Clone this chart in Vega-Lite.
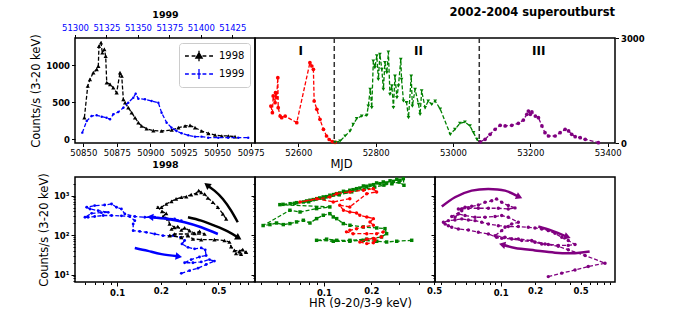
{
"$schema":"https://vega.github.io/schema/vega-lite/v6.json",
"padding":{"left":30,"top":5,"right":5,"bottom":5},
"background":"white",
"datasets":{
"lc98":[{"mjd":50850.8,"rate":292,"year":"1998"},{"mjd":50853.3,"rate":720,"year":"1998"},{"mjd":50855.0,"rate":810,"year":"1998"},{"mjd":50857.5,"rate":900,"year":"1998"},{"mjd":50860.0,"rate":946,"year":"1998"},{"mjd":50861.2,"rate":990,"year":"1998"},{"mjd":50861.7,"rate":1260,"year":"1998"},{"mjd":50863.2,"rate":1305,"year":"1998"},{"mjd":50864.2,"rate":1170,"year":"1998"},{"mjd":50865.7,"rate":1216,"year":"1998"},{"mjd":50866.7,"rate":1125,"year":"1998"},{"mjd":50867.5,"rate":765,"year":"1998"},{"mjd":50870.0,"rate":743,"year":"1998"},{"mjd":50872.4,"rate":697,"year":"1998"},{"mjd":50874.9,"rate":630,"year":"1998"},{"mjd":50877.4,"rate":900,"year":"1998"},{"mjd":50878.7,"rate":855,"year":"1998"},{"mjd":50879.9,"rate":540,"year":"1998"},{"mjd":50881.2,"rate":495,"year":"1998"},{"mjd":50883.6,"rate":427,"year":"1998"},{"mjd":50886.1,"rate":360,"year":"1998"},{"mjd":50888.6,"rate":292,"year":"1998"},{"mjd":50891.1,"rate":225,"year":"1998"},{"mjd":50893.6,"rate":180,"year":"1998"},{"mjd":50897.3,"rate":143,"year":"1998"},{"mjd":50902.3,"rate":117,"year":"1998"},{"mjd":50908.5,"rate":112,"year":"1998"},{"mjd":50916.0,"rate":126,"year":"1998"},{"mjd":50921.0,"rate":157,"year":"1998"},{"mjd":50926.0,"rate":180,"year":"1998"},{"mjd":50929.7,"rate":189,"year":"1998"},{"mjd":50933.4,"rate":157,"year":"1998"},{"mjd":50938.4,"rate":112,"year":"1998"},{"mjd":50943.4,"rate":81,"year":"1998"},{"mjd":50948.4,"rate":58,"year":"1998"},{"mjd":50953.4,"rate":45,"year":"1998"},{"mjd":50958.3,"rate":45,"year":"1998"},{"mjd":50963.3,"rate":36,"year":"1998"}],
"lc99":[{"mjd":51305.8,"rate":90,"year":"1999"},{"mjd":51309.3,"rate":247,"year":"1999"},{"mjd":51313.2,"rate":315,"year":"1999"},{"mjd":51317.2,"rate":324,"year":"1999"},{"mjd":51321.2,"rate":306,"year":"1999"},{"mjd":51325.1,"rate":292,"year":"1999"},{"mjd":51327.8,"rate":270,"year":"1999"},{"mjd":51330.4,"rate":338,"year":"1999"},{"mjd":51334.4,"rate":369,"year":"1999"},{"mjd":51338.4,"rate":427,"year":"1999"},{"mjd":51342.3,"rate":495,"year":"1999"},{"mjd":51346.3,"rate":562,"year":"1999"},{"mjd":51348.2,"rate":616,"year":"1999"},{"mjd":51350.3,"rate":549,"year":"1999"},{"mjd":51355.6,"rate":540,"year":"1999"},{"mjd":51360.9,"rate":517,"year":"1999"},{"mjd":51366.2,"rate":495,"year":"1999"},{"mjd":51368.8,"rate":360,"year":"1999"},{"mjd":51372.8,"rate":225,"year":"1999"},{"mjd":51376.7,"rate":157,"year":"1999"},{"mjd":51380.7,"rate":112,"year":"1999"},{"mjd":51384.7,"rate":81,"year":"1999"},{"mjd":51390.0,"rate":54,"year":"1999"},{"mjd":51395.3,"rate":36,"year":"1999"},{"mjd":51400.5,"rate":36,"year":"1999"},{"mjd":51405.8,"rate":22,"year":"1999"},{"mjd":51413.8,"rate":22,"year":"1999"},{"mjd":51421.7,"rate":22,"year":"1999"},{"mjd":51429.7,"rate":22,"year":"1999"},{"mjd":51437.6,"rate":22,"year":"1999"}],
"lc0204":[{"seg":"I","mjd":52529,"rate":1057},{"seg":"I","mjd":52533,"rate":867},{"seg":"I","mjd":52535,"rate":1343},{"seg":"I","mjd":52540,"rate":1152},{"seg":"I","mjd":52541,"rate":1438},{"seg":"I","mjd":52544,"rate":1295},{"seg":"I","mjd":52547,"rate":1867},{"seg":"I","mjd":52548,"rate":1010},{"seg":"I","mjd":52553,"rate":771},{"seg":"I","mjd":52557,"rate":724},{"seg":"I","mjd":52566,"rate":771},{"seg":"I","mjd":52596,"rate":581},{"seg":"I","mjd":52630,"rate":2295},{"seg":"I","mjd":52635,"rate":2200},{"seg":"I","mjd":52639,"rate":2105},{"seg":"I","mjd":52641,"rate":1200},{"seg":"I","mjd":52648,"rate":962},{"seg":"I","mjd":52656,"rate":676},{"seg":"I","mjd":52665,"rate":390},{"seg":"I","mjd":52673,"rate":200},{"seg":"I","mjd":52680,"rate":100},{"seg":"I","mjd":52688,"rate":40},{"seg":"I","mjd":52695,"rate":20},
{"seg":"II","mjd":52695,"rate":20},{"seg":"II","mjd":52708,"rate":57},{"seg":"II","mjd":52721,"rate":200},{"seg":"II","mjd":52734,"rate":343},{"seg":"II","mjd":52742,"rate":533},{"seg":"II","mjd":52751,"rate":695},{"seg":"II","mjd":52764,"rate":771},{"seg":"II","mjd":52777,"rate":790},{"seg":"II","mjd":52781,"rate":1057},{"seg":"II","mjd":52786,"rate":1533},{"seg":"II","mjd":52790,"rate":1010},{"seg":"II","mjd":52794,"rate":2343},{"seg":"II","mjd":52798,"rate":2152},{"seg":"II","mjd":52803,"rate":2486},{"seg":"II","mjd":52807,"rate":1819},{"seg":"II","mjd":52811,"rate":2533},{"seg":"II","mjd":52816,"rate":2105},{"seg":"II","mjd":52820,"rate":1533},{"seg":"II","mjd":52824,"rate":2295},{"seg":"II","mjd":52829,"rate":2010},{"seg":"II","mjd":52833,"rate":2600},{"seg":"II","mjd":52837,"rate":1390},{"seg":"II","mjd":52842,"rate":1629},{"seg":"II","mjd":52846,"rate":1010},{"seg":"II","mjd":52850,"rate":1914},{"seg":"II","mjd":52855,"rate":1295},{"seg":"II","mjd":52859,"rate":1629},{"seg":"II","mjd":52865,"rate":2390},{"seg":"II","mjd":52867,"rate":1819},{"seg":"II","mjd":52872,"rate":1200},{"seg":"II","mjd":52880,"rate":1152},{"seg":"II","mjd":52885,"rate":724},{"seg":"II","mjd":52892,"rate":1914},{"seg":"II","mjd":52895,"rate":1057},{"seg":"II","mjd":52902,"rate":1533},{"seg":"II","mjd":52911,"rate":1105},{"seg":"II","mjd":52915,"rate":819},{"seg":"II","mjd":52919,"rate":1486},{"seg":"II","mjd":52928,"rate":1010},{"seg":"II","mjd":52936,"rate":1200},{"seg":"II","mjd":52945,"rate":1105},{"seg":"II","mjd":52954,"rate":1200},{"seg":"II","mjd":52967,"rate":971},{"seg":"II","mjd":52993,"rate":248},{"seg":"II","mjd":53005,"rate":390},{"seg":"II","mjd":53018,"rate":562},{"seg":"II","mjd":53031,"rate":600},{"seg":"II","mjd":53044,"rate":486},{"seg":"II","mjd":53053,"rate":295},{"seg":"II","mjd":53062,"rate":105},{"seg":"II","mjd":53068,"rate":29},
{"seg":"III","mjd":53070,"rate":29},{"seg":"III","mjd":53083,"rate":105},{"seg":"III","mjd":53096,"rate":248},{"seg":"III","mjd":53109,"rate":390},{"seg":"III","mjd":53122,"rate":505},{"seg":"III","mjd":53135,"rate":486},{"seg":"III","mjd":53152,"rate":505},{"seg":"III","mjd":53169,"rate":562},{"seg":"III","mjd":53182,"rate":657},{"seg":"III","mjd":53191,"rate":819},{"seg":"III","mjd":53195,"rate":914},{"seg":"III","mjd":53200,"rate":819},{"seg":"III","mjd":53204,"rate":886},{"seg":"III","mjd":53213,"rate":771},{"seg":"III","mjd":53221,"rate":724},{"seg":"III","mjd":53230,"rate":486},{"seg":"III","mjd":53238,"rate":295},{"seg":"III","mjd":53247,"rate":200},{"seg":"III","mjd":53264,"rate":200},{"seg":"III","mjd":53277,"rate":295},{"seg":"III","mjd":53290,"rate":390},{"seg":"III","mjd":53299,"rate":343},{"seg":"III","mjd":53307,"rate":248},{"seg":"III","mjd":53316,"rate":181},{"seg":"III","mjd":53329,"rate":152},{"seg":"III","mjd":53342,"rate":105},{"seg":"III","mjd":53376,"rate":10}],
"hr98":[{"i":0,"hr":0.565,"rate":258},{"i":1,"hr":0.536,"rate":344},{"i":2,"hr":0.495,"rate":508},{"i":3,"hr":0.457,"rate":680},{"i":4,"hr":0.422,"rate":876},{"i":5,"hr":0.401,"rate":1104},{"i":6,"hr":0.38,"rate":1216},{"i":7,"hr":0.365,"rate":1339},{"i":8,"hr":0.351,"rate":1147},{"i":9,"hr":0.324,"rate":1060},{"i":10,"hr":0.30,"rate":945},{"i":11,"hr":0.277,"rate":911},{"i":12,"hr":0.255,"rate":825},{"i":13,"hr":0.237,"rate":720},{"i":14,"hr":0.218,"rate":616},{"i":15,"hr":0.202,"rate":508},{"i":16,"hr":0.191,"rate":508},{"i":17,"hr":0.204,"rate":400},{"i":18,"hr":0.218,"rate":357},{"i":19,"hr":0.207,"rate":295},{"i":20,"hr":0.224,"rate":258},{"i":21,"hr":0.23,"rate":192},{"i":22,"hr":0.249,"rate":158},{"i":23,"hr":0.237,"rate":143},{"i":24,"hr":0.262,"rate":165},{"i":25,"hr":0.277,"rate":135},{"i":26,"hr":0.292,"rate":152},{"i":27,"hr":0.316,"rate":130},{"i":28,"hr":0.342,"rate":111},{"i":29,"hr":0.37,"rate":124},{"i":30,"hr":0.401,"rate":107},{"i":31,"hr":0.249,"rate":107},{"i":32,"hr":0.23,"rate":97},{"i":33,"hr":0.277,"rate":88},{"i":34,"hr":0.308,"rate":97},{"i":35,"hr":0.333,"rate":80},{"i":36,"hr":0.38,"rate":77},{"i":37,"hr":0.469,"rate":77},{"i":38,"hr":0.55,"rate":73},{"i":39,"hr":0.595,"rate":67},{"i":40,"hr":0.611,"rate":51},{"i":41,"hr":0.644,"rate":41},{"i":42,"hr":0.697,"rate":39.5},{"i":43,"hr":0.735,"rate":43},{"i":44,"hr":0.776,"rate":37},{"i":45,"hr":0.716,"rate":33},{"i":46,"hr":0.661,"rate":34.5}],
"hr99":[{"i":0,"hr":0.277,"rate":10.8},{"i":1,"hr":0.316,"rate":12.6},{"i":2,"hr":0.361,"rate":14.6},{"i":3,"hr":0.411,"rate":18},{"i":4,"hr":0.469,"rate":22},{"i":5,"hr":0.433,"rate":24},{"i":6,"hr":0.38,"rate":21},{"i":7,"hr":0.333,"rate":20},{"i":8,"hr":0.292,"rate":20},{"i":9,"hr":0.324,"rate":24},{"i":10,"hr":0.37,"rate":28},{"i":11,"hr":0.411,"rate":30.5},{"i":12,"hr":0.405,"rate":42.5},{"i":13,"hr":0.38,"rate":47.5},{"i":14,"hr":0.342,"rate":45},{"i":15,"hr":0.308,"rate":49},{"i":16,"hr":0.28,"rate":60},{"i":17,"hr":0.292,"rate":73},{"i":18,"hr":0.274,"rate":88},{"i":19,"hr":0.243,"rate":97},{"i":20,"hr":0.207,"rate":97},{"i":21,"hr":0.1816,"rate":107},{"i":22,"hr":0.159,"rate":118},{"i":23,"hr":0.143,"rate":124},{"i":24,"hr":0.129,"rate":130},{"i":25,"hr":0.129,"rate":192},{"i":26,"hr":0.1324,"rate":233},{"i":27,"hr":0.122,"rate":296},{"i":28,"hr":0.107,"rate":308},{"i":29,"hr":0.0915,"rate":314},{"i":30,"hr":0.080,"rate":314},{"i":31,"hr":0.070,"rate":296},{"i":32,"hr":0.063,"rate":284},{"i":33,"hr":0.060,"rate":284},{"i":34,"hr":0.0667,"rate":357},{"i":35,"hr":0.078,"rate":371},{"i":36,"hr":0.0868,"rate":379},{"i":37,"hr":0.074,"rate":417},{"i":38,"hr":0.065,"rate":460},{"i":39,"hr":0.0617,"rate":508},{"i":40,"hr":0.070,"rate":560},{"i":41,"hr":0.082,"rate":580},{"i":42,"hr":0.0915,"rate":616},{"i":43,"hr":0.099,"rate":508},{"i":44,"hr":0.107,"rate":460},{"i":45,"hr":0.113,"rate":344},{"i":46,"hr":0.1324,"rate":296},{"i":47,"hr":0.155,"rate":284},{"i":48,"hr":0.1816,"rate":284},{"i":49,"hr":0.213,"rate":272},{"i":50,"hr":0.249,"rate":258},{"i":51,"hr":0.277,"rate":233}],
"hrI":[{"i":0,"hr":0.146,"rate":840},{"i":1,"hr":0.1146,"rate":693},{"i":2,"hr":0.09,"rate":840},{"i":3,"hr":0.0705,"rate":693},{"i":4,"hr":0.109,"rate":927},{"i":5,"hr":0.1205,"rate":1124},{"i":6,"hr":0.146,"rate":1241},{"i":7,"hr":0.178,"rate":1371},{"i":8,"hr":0.206,"rate":1504},{"i":9,"hr":0.216,"rate":1241},{"i":10,"hr":0.187,"rate":1124},{"i":11,"hr":0.146,"rate":518},{"i":12,"hr":0.126,"rate":571},{"i":13,"hr":0.133,"rate":427},{"i":14,"hr":0.146,"rate":386},{"i":15,"hr":0.161,"rate":365},{"i":16,"hr":0.169,"rate":319},{"i":17,"hr":0.187,"rate":289},{"i":18,"hr":0.206,"rate":262},{"i":19,"hr":0.196,"rate":216},{"i":20,"hr":0.206,"rate":178},{"i":21,"hr":0.178,"rate":161},{"i":22,"hr":0.161,"rate":146},{"i":23,"hr":0.146,"rate":133},{"i":24,"hr":0.139,"rate":121},{"i":25,"hr":0.153,"rate":109},{"i":26,"hr":0.187,"rate":109},{"i":27,"hr":0.216,"rate":109},{"i":28,"hr":0.238,"rate":121},{"i":29,"hr":0.232,"rate":90},{"i":30,"hr":0.206,"rate":82},{"i":31,"hr":0.187,"rate":79},{"i":32,"hr":0.169,"rate":67},{"i":33,"hr":0.187,"rate":61},{"i":34,"hr":0.206,"rate":64},{"i":35,"hr":0.211,"rate":74}],
"hrII":[{"i":0,"hr":0.3606,"rate":74},{"i":1,"hr":0.2897,"rate":70},{"i":2,"hr":0.25,"rate":67},{"i":3,"hr":0.2163,"rate":70},{"i":4,"hr":0.1777,"rate":74},{"i":5,"hr":0.146,"rate":70},{"i":6,"hr":0.1146,"rate":70},{"i":7,"hr":0.0898,"rate":74},{"i":8,"hr":0.104,"rate":79},{"i":9,"hr":0.1205,"rate":74},{"i":10,"hr":0.1462,"rate":74},{"i":11,"hr":0.1866,"rate":79},{"i":12,"hr":0.232,"rate":90},{"i":13,"hr":0.25,"rate":109},{"i":14,"hr":0.244,"rate":146},{"i":15,"hr":0.2163,"rate":152},{"i":16,"hr":0.1777,"rate":161},{"i":17,"hr":0.1462,"rate":178},{"i":18,"hr":0.1327,"rate":196},{"i":19,"hr":0.1205,"rate":262},{"i":20,"hr":0.1146,"rate":289},{"i":21,"hr":0.109,"rate":350},{"i":22,"hr":0.099,"rate":319},{"i":23,"hr":0.0898,"rate":262},{"i":24,"hr":0.0815,"rate":203},{"i":25,"hr":0.074,"rate":238},{"i":26,"hr":0.067,"rate":216},{"i":27,"hr":0.0608,"rate":196},{"i":28,"hr":0.0552,"rate":185},{"i":29,"hr":0.05,"rate":203},{"i":30,"hr":0.0454,"rate":185},{"i":31,"hr":0.0411,"rate":175},{"i":32,"hr":0.0608,"rate":427},{"i":33,"hr":0.0705,"rate":386},{"i":34,"hr":0.0898,"rate":469},{"i":35,"hr":0.109,"rate":518},{"i":36,"hr":0.0525,"rate":592},{"i":37,"hr":0.055,"rate":603},{"i":38,"hr":0.061,"rate":627},{"i":39,"hr":0.067,"rate":665},{"i":40,"hr":0.074,"rate":693},{"i":41,"hr":0.0776,"rate":735},{"i":42,"hr":0.0815,"rate":766},{"i":43,"hr":0.0855,"rate":795},{"i":44,"hr":0.09,"rate":840},{"i":45,"hr":0.094,"rate":875},{"i":46,"hr":0.099,"rate":927},{"i":47,"hr":0.104,"rate":945},{"i":48,"hr":0.109,"rate":1024},{"i":49,"hr":0.115,"rate":1065},{"i":50,"hr":0.12,"rate":1124},{"i":51,"hr":0.126,"rate":1170},{"i":52,"hr":0.133,"rate":1290},{"i":53,"hr":0.139,"rate":1241},{"i":54,"hr":0.146,"rate":1371},{"i":55,"hr":0.153,"rate":1420},{"i":56,"hr":0.161,"rate":1504},{"i":57,"hr":0.169,"rate":1560},{"i":58,"hr":0.178,"rate":1760},{"i":59,"hr":0.187,"rate":1730},{"i":60,"hr":0.196,"rate":1834},{"i":61,"hr":0.206,"rate":1900},{"i":62,"hr":0.216,"rate":2100},{"i":63,"hr":0.227,"rate":2015},{"i":64,"hr":0.238,"rate":2225},{"i":65,"hr":0.25,"rate":2100},{"i":66,"hr":0.263,"rate":2380},{"i":67,"hr":0.276,"rate":2300},{"i":68,"hr":0.29,"rate":2600},{"i":69,"hr":0.304,"rate":2455},{"i":70,"hr":0.319,"rate":2692},{"i":71,"hr":0.322,"rate":1834},{"i":72,"hr":0.30,"rate":2200},{"i":73,"hr":0.27,"rate":2000},{"i":74,"hr":0.24,"rate":1850},{"i":75,"hr":0.21,"rate":1650},{"i":76,"hr":0.18,"rate":1450},{"i":77,"hr":0.15,"rate":1250},{"i":78,"hr":0.125,"rate":1050},{"i":79,"hr":0.10,"rate":850},{"i":80,"hr":0.08,"rate":700},{"i":81,"hr":0.065,"rate":640}],
"hrIII":[{"i":0,"hr":0.2608,"rate":8.9},{"i":1,"hr":0.342,"rate":10.9},{"i":2,"hr":0.4467,"rate":13.1},{"i":3,"hr":0.5834,"rate":16},{"i":4,"hr":0.818,"rate":19.5},{"i":5,"hr":0.547,"rate":30.5},{"i":6,"hr":0.39,"rate":42.5},{"i":7,"hr":0.319,"rate":52},{"i":8,"hr":0.2608,"rate":58},{"i":9,"hr":0.2284,"rate":60},{"i":10,"hr":0.1995,"rate":66},{"i":11,"hr":0.1527,"rate":73},{"i":12,"hr":0.1248,"rate":80},{"i":13,"hr":0.102,"rate":83},{"i":14,"hr":0.092,"rate":88},{"i":15,"hr":0.078,"rate":107},{"i":16,"hr":0.0637,"rate":118},{"i":17,"hr":0.0521,"rate":135},{"i":18,"hr":0.0426,"rate":143},{"i":19,"hr":0.0373,"rate":158},{"i":20,"hr":0.0348,"rate":174},{"i":21,"hr":0.0326,"rate":192},{"i":22,"hr":0.0315,"rate":212},{"i":23,"hr":0.0348,"rate":233},{"i":24,"hr":0.0398,"rate":242},{"i":25,"hr":0.0456,"rate":258},{"i":26,"hr":0.0521,"rate":242},{"i":27,"hr":0.0596,"rate":233},{"i":28,"hr":0.0682,"rate":212},{"i":29,"hr":0.078,"rate":192},{"i":30,"hr":0.0953,"rate":174},{"i":31,"hr":0.1165,"rate":165},{"i":32,"hr":0.1426,"rate":165},{"i":33,"hr":0.1743,"rate":158},{"i":34,"hr":0.1995,"rate":152},{"i":35,"hr":0.2284,"rate":143},{"i":36,"hr":0.2608,"rate":130},{"i":37,"hr":0.2985,"rate":111},{"i":38,"hr":0.342,"rate":88},{"i":39,"hr":0.39,"rate":73},{"i":40,"hr":0.4467,"rate":58},{"i":41,"hr":0.39,"rate":55},{"i":42,"hr":0.319,"rate":55},{"i":43,"hr":0.2441,"rate":60},{"i":44,"hr":0.1866,"rate":73},{"i":45,"hr":0.1426,"rate":80},{"i":46,"hr":0.109,"rate":88},{"i":47,"hr":0.0892,"rate":97},{"i":48,"hr":0.102,"rate":130},{"i":49,"hr":0.109,"rate":158},{"i":50,"hr":0.1248,"rate":192},{"i":51,"hr":0.1426,"rate":212},{"i":52,"hr":0.1165,"rate":284},{"i":53,"hr":0.102,"rate":314},{"i":54,"hr":0.0892,"rate":296},{"i":55,"hr":0.0729,"rate":284},{"i":56,"hr":0.0596,"rate":284},{"i":57,"hr":0.0487,"rate":314},{"i":58,"hr":0.0426,"rate":344},{"i":59,"hr":0.0398,"rate":284},{"i":60,"hr":0.0373,"rate":296},{"i":61,"hr":0.0456,"rate":417},{"i":62,"hr":0.0426,"rate":460},{"i":63,"hr":0.0487,"rate":508},{"i":64,"hr":0.0557,"rate":536},{"i":65,"hr":0.0637,"rate":580},{"i":66,"hr":0.0729,"rate":680},{"i":67,"hr":0.0834,"rate":747},{"i":68,"hr":0.092,"rate":825},{"i":69,"hr":0.102,"rate":680},{"i":70,"hr":0.1165,"rate":560},{"i":71,"hr":0.1334,"rate":490},{"i":72,"hr":0.1165,"rate":460},{"i":73,"hr":0.0953,"rate":480},{"i":74,"hr":0.078,"rate":480},{"i":75,"hr":0.0637,"rate":480},{"i":76,"hr":0.0521,"rate":480},{"i":77,"hr":0.0456,"rate":460}],
"arrowsL":[{"id":"k1","i":0,"hr":0.679,"rate":212,"series":"1998"},{"id":"k1","i":1,"hr":0.611,"rate":417,"series":"1998"},{"id":"k1","i":2,"hr":0.536,"rate":825,"series":"1998"},{"id":"k1","i":3,"hr":0.469,"rate":1339,"series":"1998"},{"id":"k1","i":4,"hr":0.422,"rate":1795,"series":"1998"},
{"id":"k2","i":0,"hr":0.308,"rate":284,"series":"1998"},{"id":"k2","i":1,"hr":0.38,"rate":233,"series":"1998"},{"id":"k2","i":2,"hr":0.469,"rate":174,"series":"1998"},{"id":"k2","i":3,"hr":0.579,"rate":125,"series":"1998"},{"id":"k2","i":4,"hr":0.679,"rate":88,"series":"1998"},
{"id":"b1","i":0,"hr":0.495,"rate":107,"series":"1999"},{"id":"b1","i":1,"hr":0.38,"rate":158,"series":"1999"},{"id":"b1","i":2,"hr":0.292,"rate":212,"series":"1999"},{"id":"b1","i":3,"hr":0.224,"rate":257,"series":"1999"},{"id":"b1","i":4,"hr":0.172,"rate":284,"series":"1999"},
{"id":"b2","i":0,"hr":0.1324,"rate":47.5,"series":"1999"},{"id":"b2","i":1,"hr":0.163,"rate":40,"series":"1999"},{"id":"b2","i":2,"hr":0.202,"rate":33,"series":"1999"},{"id":"b2","i":3,"hr":0.262,"rate":29,"series":"1999"}],
"arrowsR":[{"id":"p1","i":0,"hr":0.0305,"rate":529},{"id":"p1","i":1,"hr":0.0398,"rate":911},{"id":"p1","i":2,"hr":0.0557,"rate":1339},{"id":"p1","i":3,"hr":0.078,"rate":1480},{"id":"p1","i":4,"hr":0.109,"rate":1339},{"id":"p1","i":5,"hr":0.1426,"rate":950},
{"id":"p2","i":0,"hr":0.2133,"rate":165},{"id":"p2","i":1,"hr":0.2793,"rate":130},{"id":"p2","i":2,"hr":0.377,"rate":92},
{"id":"p3","i":0,"hr":0.60,"rate":38.5},{"id":"p3","i":1,"hr":0.4467,"rate":35},{"id":"p3","i":2,"hr":0.2985,"rate":36},{"id":"p3","i":3,"hr":0.1995,"rate":41},{"id":"p3","i":4,"hr":0.1334,"rate":47.5},{"id":"p3","i":5,"hr":0.105,"rate":57}]
},
"vconcat":[
{"hconcat":[
{"width":180,"height":105,
"layer":[
{"data":{"name":"lc98"},
"encoding":{"x":{"field":"mjd","type":"quantitative","scale":{"domain":[50843.8,50978.2],"nice":false,"zero":false},"axis":{"orient":"bottom","values":[50850,50875,50900,50925,50950,50975],"format":"d","title":"1998","titleFontSize":9.5,"titleFontWeight":"bold","titlePadding":2}},
"y":{"field":"rate","type":"quantitative","scale":{"domain":[-50,1369],"nice":false,"zero":false},"axis":{"values":[0,500,1000],"format":"d","labelFontWeight":"bold","title":"Counts/s (3-20 keV)"}}},
"layer":[
{"mark":{"type":"line","strokeDash":[4,2],"strokeWidth":1.3},"encoding":{"color":{"field":"year","type":"nominal","scale":{"domain":["1998","1999"],"range":["black","blue"]}}}},
{"mark":{"type":"point","shape":"triangle-up","filled":true,"size":18,"opacity":1},"encoding":{"color":{"field":"year","type":"nominal","scale":{"domain":["1998","1999"],"range":["black","blue"]}}}},
{"mark":{"type":"point","filled":false,"opacity":0},"encoding":{
"color":{"field":"year","type":"nominal","scale":{"domain":["1998","1999"],"range":["black","blue"]},"legend":{"title":null,"orient":"top-right","offset":5,"symbolSize":196,"symbolStrokeWidth":1.3,"symbolOpacity":1,"labelFontSize":10,"rowPadding":2,"labelOffset":12,"padding":5,"strokeColor":"#cccccc","fillColor":"white","cornerRadius":3,"symbolOffset":7}},
"shape":{"field":"year","type":"nominal","scale":{"domain":["1998","1999"],"range":["M-2,0H-1.45M-1.05,0H-0.5M0.5,0H1.05M1.45,0H2M0,-0.75V0.75M-0.45,0.3L0,-0.45L0.45,0.3Z","M-2,0H-1.45M-1.05,0H-0.5M-0.25,0H0.25M0.5,0H1.05M1.45,0H2M0,-0.7V0.7"]},"legend":{"title":null,"orient":"top-right","offset":5,"symbolSize":196,"symbolStrokeWidth":1.3,"symbolOpacity":1,"labelFontSize":10,"rowPadding":2,"labelOffset":12,"padding":5,"strokeColor":"#cccccc","fillColor":"white","cornerRadius":3,"symbolOffset":7}}}}
]},
{"data":{"name":"lc99"},
"encoding":{"x":{"field":"mjd","type":"quantitative","scale":{"domain":[51300,51443],"nice":false,"zero":false},"axis":{"orient":"top","values":[51300,51325,51350,51375,51400,51425],"format":"d","labelColor":"blue","title":"1999","titleFontSize":9.5,"titleFontWeight":"bold","titlePadding":4}},
"y":{"field":"rate","type":"quantitative"},
"color":{"field":"year","type":"nominal","scale":{"domain":["1998","1999"],"range":["black","blue"]}}},
"layer":[
{"mark":{"type":"line","strokeDash":[4,2],"strokeWidth":1.3}},
{"mark":{"type":"point","shape":"circle","filled":true,"size":6,"opacity":1}}
]}
],
"resolve":{"scale":{"x":"independent"},"axis":{"x":"independent"}}
},
{"width":360,"height":105,
"title":{"text":"2002-2004 superoutburst","anchor":"end","frame":"group","fontSize":11.5,"fontWeight":"bold","offset":16},
"layer":[
{"data":{"name":"lc0204"},"mark":{"type":"line","strokeDash":[4,2],"strokeWidth":1.3},
"encoding":{"x":{"field":"mjd","type":"quantitative","scale":{"domain":[52488,53419],"nice":false,"zero":false},"axis":{"values":[52600,52800,53000,53200,53400],"format":"d","title":"MJD","titleX":86,"titlePadding":1}},
"y":{"field":"rate","type":"quantitative","scale":{"domain":[0,3000],"nice":false},"axis":{"orient":"right","values":[0,1000,2000,3000],"format":"d","labelFontWeight":"bold","title":null}},
"color":{"field":"seg","type":"nominal","scale":{"domain":["I","II","III"],"range":["red","green","purple"]},"legend":null}}},
{"data":{"name":"lc0204"},"mark":{"type":"point","filled":true,"size":14,"opacity":1},
"encoding":{"x":{"field":"mjd","type":"quantitative"},"y":{"field":"rate","type":"quantitative"},
"color":{"field":"seg","type":"nominal","scale":{"domain":["I","II","III"],"range":["red","green","purple"]},"legend":null},
"shape":{"field":"seg","type":"nominal","scale":{"domain":["I","II","III"],"range":["circle","triangle-down","circle"]},"legend":null}}},
{"data":{"values":[{"mjd":52693},{"mjd":53068}]},"mark":{"type":"rule","strokeDash":[5,3],"strokeWidth":1.5,"color":"#333333"},
"encoding":{"x":{"field":"mjd","type":"quantitative"}}},
{"data":{"values":[{"mjd":52606,"rate":2629,"label":"I"},{"mjd":52911,"rate":2629,"label":"II"},{"mjd":53222,"rate":2629,"label":"III"}]},
"mark":{"type":"text","fontWeight":"bold","fontSize":12,"color":"black"},
"encoding":{"x":{"field":"mjd","type":"quantitative"},"y":{"field":"rate","type":"quantitative"},"text":{"field":"label"}}}
]}
],"spacing":0,"bounds":"flush",
"resolve":{"scale":{"color":"independent","shape":"independent"},"legend":{"color":"independent","shape":"independent"}}},
{"hconcat":[
{"width":180,"height":105,
"encoding":{"x":{"field":"hr","type":"quantitative","scale":{"type":"log","domain":[0.0512,0.893],"nice":false},"axis":{"values":[0.06,0.07,0.08,0.09,0.1,0.2,0.3,0.4,0.5,0.6,0.7,0.8],"labelExpr":"(datum.value==0.1||datum.value==0.2||datum.value==0.5)?format(datum.value,'.1f'):''","tickSize":{"condition":{"test":"datum.value==0.1","value":4},"value":2.5},"labelFontWeight":"bold","title":null}},
"y":{"field":"rate","type":"quantitative","scale":{"type":"log","domain":[6.5,2970],"nice":false},"axis":{"values":[7,8,9,10,20,30,40,50,60,70,80,90,100,200,300,400,500,600,700,800,900,1000,2000],"labelExpr":"datum.value==10?'10¹':datum.value==100?'10²':datum.value==1000?'10³':''","tickSize":{"condition":{"test":"datum.value==10||datum.value==100||datum.value==1000","value":4},"value":2},"labelFontWeight":"bold","title":"Counts/s (3-20 keV)"}}},
"layer":[
{"data":{"name":"hr99"},"mark":{"type":"line","strokeDash":[4,2],"strokeWidth":1.3,"color":"blue"},"encoding":{"order":{"field":"i","type":"quantitative"}}},
{"data":{"name":"hr99"},"mark":{"type":"point","filled":true,"size":8,"color":"blue","opacity":1}},
{"data":{"name":"hr98"},"mark":{"type":"line","strokeDash":[4,2],"strokeWidth":1.3,"color":"black"},"encoding":{"order":{"field":"i","type":"quantitative"}}},
{"data":{"name":"hr98"},"mark":{"type":"point","shape":"triangle-up","filled":true,"size":18,"color":"black","opacity":1}},
{"data":{"name":"arrowsL"},"mark":{"type":"line","strokeWidth":2.5,"interpolate":"natural"},"encoding":{"order":{"field":"i","type":"quantitative"},"detail":{"field":"id"},"color":{"field":"series","type":"nominal","scale":{"domain":["1998","1999"],"range":["black","blue"]},"legend":null}}},
{"data":{"name":"arrowsL"},"transform":[{"filter":"datum.id=='k1' && datum.i==4"}],"mark":{"type":"point","shape":"triangle","filled":true,"size":55,"angle":307,"color":"black","opacity":1}},
{"data":{"name":"arrowsL"},"transform":[{"filter":"datum.id=='k2' && datum.i==4"}],"mark":{"type":"point","shape":"triangle","filled":true,"size":55,"angle":121,"color":"black","opacity":1}},
{"data":{"name":"arrowsL"},"transform":[{"filter":"datum.id=='b1' && datum.i==4"}],"mark":{"type":"point","shape":"triangle","filled":true,"size":55,"angle":275,"color":"blue","opacity":1}},
{"data":{"name":"arrowsL"},"transform":[{"filter":"datum.id=='b2' && datum.i==3"}],"mark":{"type":"point","shape":"triangle","filled":true,"size":55,"angle":99,"color":"blue","opacity":1}}
]},
{"width":180,"height":105,
"encoding":{"x":{"field":"hr","type":"quantitative","scale":{"type":"log","domain":[0.0365,0.507],"nice":false},"axis":{"values":[0.04,0.05,0.06,0.07,0.08,0.09,0.1,0.2,0.3,0.4,0.5],"labelExpr":"(datum.value==0.1||datum.value==0.2||datum.value==0.5)?format(datum.value,'.1f'):''","tickSize":{"condition":{"test":"datum.value==0.1","value":4},"value":2.5},"labelFontWeight":"bold","title":"HR (9-20/3-9 keV)","titleX":105,"titlePadding":1}},
"y":{"field":"rate","type":"quantitative","scale":{"type":"log","domain":[6.5,2970],"nice":false},"axis":{"values":[7,8,9,10,20,30,40,50,60,70,80,90,100,200,300,400,500,600,700,800,900,1000,2000],"labels":false,"tickSize":{"condition":{"test":"datum.value==10||datum.value==100||datum.value==1000","value":4},"value":2},"title":null}}},
"layer":[
{"data":{"name":"hrII"},"mark":{"type":"line","strokeDash":[4,2],"strokeWidth":1.3,"color":"green"},"encoding":{"order":{"field":"i","type":"quantitative"}}},
{"data":{"name":"hrII"},"mark":{"type":"point","shape":"square","filled":true,"size":12,"color":"green","opacity":1}},
{"data":{"name":"hrI"},"mark":{"type":"line","strokeDash":[4,2],"strokeWidth":1.3,"color":"red"},"encoding":{"order":{"field":"i","type":"quantitative"}}},
{"data":{"name":"hrI"},"mark":{"type":"point","shape":"circle","filled":true,"size":12,"color":"red","opacity":1}}
]},
{"width":180,"height":105,
"encoding":{"x":{"field":"hr","type":"quantitative","scale":{"type":"log","domain":[0.0266,1.0],"nice":false},"axis":{"values":[0.03,0.04,0.05,0.06,0.07,0.08,0.09,0.1,0.2,0.3,0.4,0.5,0.6,0.7,0.8,0.9],"labelExpr":"(datum.value==0.1||datum.value==0.2||datum.value==0.5)?format(datum.value,'.1f'):''","tickSize":{"condition":{"test":"datum.value==0.1","value":4},"value":2.5},"labelFontWeight":"bold","title":null}},
"y":{"field":"rate","type":"quantitative","scale":{"type":"log","domain":[6.5,2970],"nice":false},"axis":{"values":[7,8,9,10,20,30,40,50,60,70,80,90,100,200,300,400,500,600,700,800,900,1000,2000],"labels":false,"tickSize":{"condition":{"test":"datum.value==10||datum.value==100||datum.value==1000","value":4},"value":2},"title":null}}},
"layer":[
{"data":{"name":"hrIII"},"mark":{"type":"line","strokeDash":[4,2],"strokeWidth":1.3,"color":"purple"},"encoding":{"order":{"field":"i","type":"quantitative"}}},
{"data":{"name":"hrIII"},"mark":{"type":"point","shape":"circle","filled":true,"size":12,"color":"purple","opacity":1}},
{"data":{"name":"arrowsR"},"mark":{"type":"line","strokeWidth":2.5,"interpolate":"natural","color":"purple"},"encoding":{"order":{"field":"i","type":"quantitative"},"detail":{"field":"id"}}},
{"data":{"name":"arrowsR"},"transform":[{"filter":"datum.id=='p1' && datum.i==5"}],"mark":{"type":"point","shape":"triangle","filled":true,"size":55,"angle":114,"color":"purple","opacity":1}},
{"data":{"name":"arrowsR"},"transform":[{"filter":"datum.id=='p2' && datum.i==2"}],"mark":{"type":"point","shape":"triangle","filled":true,"size":55,"angle":109,"color":"purple","opacity":1}},
{"data":{"name":"arrowsR"},"transform":[{"filter":"datum.id=='p3' && datum.i==5"}],"mark":{"type":"point","shape":"triangle","filled":true,"size":55,"angle":284,"color":"purple","opacity":1}}
]}
],"spacing":0,"bounds":"flush",
"resolve":{"scale":{"color":"independent"},"legend":{"color":"independent"}}}
],
"spacing":0,
"bounds":"full",
"resolve":{"scale":{"color":"independent","shape":"independent"},"legend":{"color":"independent","shape":"independent"}},
"config":{
"font":"DejaVu Sans",
"view":{"stroke":"black","strokeWidth":1.5},
"axis":{"grid":false,"domain":false,"ticks":true,"tickColor":"black","tickWidth":1,"tickSize":3.5,"labelColor":"black","labelFontSize":8.5,"labelPadding":2,"labelFlush":false,"labelOverlap":false,"titleFontWeight":"normal","titleFontSize":11.5,"titleColor":"black"},
"title":{"color":"black"},
"legend":{"labelColor":"black","labelFont":"DejaVu Sans"}
}
}
